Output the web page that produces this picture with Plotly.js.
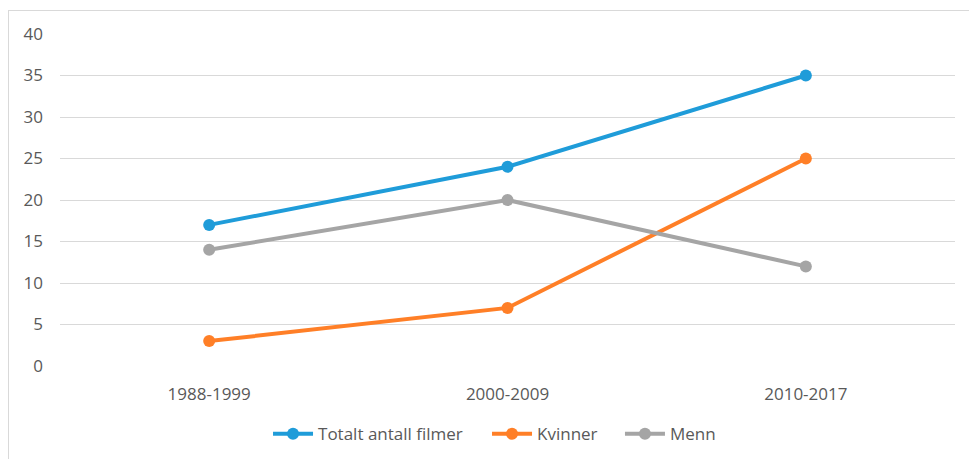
<!DOCTYPE html>
<html>
<head>
<meta charset="utf-8">
<script src="https://cdn.plot.ly/plotly-3.0.1.min.js"></script>
<style>
html,body{margin:0;padding:0;background:#fff;overflow:hidden;}
#chart{width:969px;height:459px;}
#frame{position:absolute;left:8px;top:10px;width:980px;height:470px;border-left:1px solid #d9d9d9;border-top:1px solid #d9d9d9;pointer-events:none;}
</style>
</head>
<body>
<div id="chart"></div>
<div id="frame"></div>
<script>
const categories = ["1988-1999", "2000-2009", "2010-2017"];
const totalt = [17, 24, 35];
const kvinner = [3, 7, 25];
const menn = [14, 20, 12];
const seriesNames = ["Totalt antall filmer", "Kvinner", "Menn"];
const colors = ["#1F9CD9", "#FF7F27", "#A5A5A5"];
const yTicks = [0, 5, 10, 15, 20, 25, 30, 35, 40];

const values = [totalt, kvinner, menn];
const legendIds = ["legend", "legend2", "legend3"];
const legendX = [0.2766, 0.5026, 0.6398];

const traces = values.map((v, i) => ({
  type: "scatter",
  mode: "lines+markers",
  x: categories,
  y: v,
  name: seriesNames[i],
  legend: legendIds[i],
  line: {color: colors[i], width: 4},
  marker: {color: colors[i], size: 12}
}));

const layout = {
  width: 969, height: 459,
  margin: {l: 60, r: 14, t: 34, b: 93},
  paper_bgcolor: "#fff",
  plot_bgcolor: "#fff",
  font: {family: "Open Sans, sans-serif", size: 17, color: "#595959"},
  showlegend: true,
  xaxis: {
    type: "category",
    range: [-0.5, 2.5],
    automargin: false,
    showgrid: false,
    zeroline: false,
    showline: false,
    ticks: "",
    ticklabelstandoff: 16,
    tickfont: {size: 17, color: "#595959"}
  },
  yaxis: {
    range: [0, 40],
    tickvals: yTicks,
    automargin: false,
    showgrid: true,
    gridcolor: "#D9D9D9",
    gridwidth: 1,
    zeroline: false,
    showline: false,
    ticks: "",
    ticklabelstandoff: 16,
    tickfont: {size: 17, color: "#595959"}
  }
};

legendIds.forEach((id, i) => {
  layout[id] = {
    orientation: "h",
    xref: "container", x: legendX[i], xanchor: "left",
    yref: "container", y: 0.054, yanchor: "middle",
    font: {size: 17, color: "#595959"}, itemwidth: 40
  };
});

Plotly.newPlot("chart", traces, layout, {displayModeBar: false, staticPlot: true});
</script>
</body>
</html>
